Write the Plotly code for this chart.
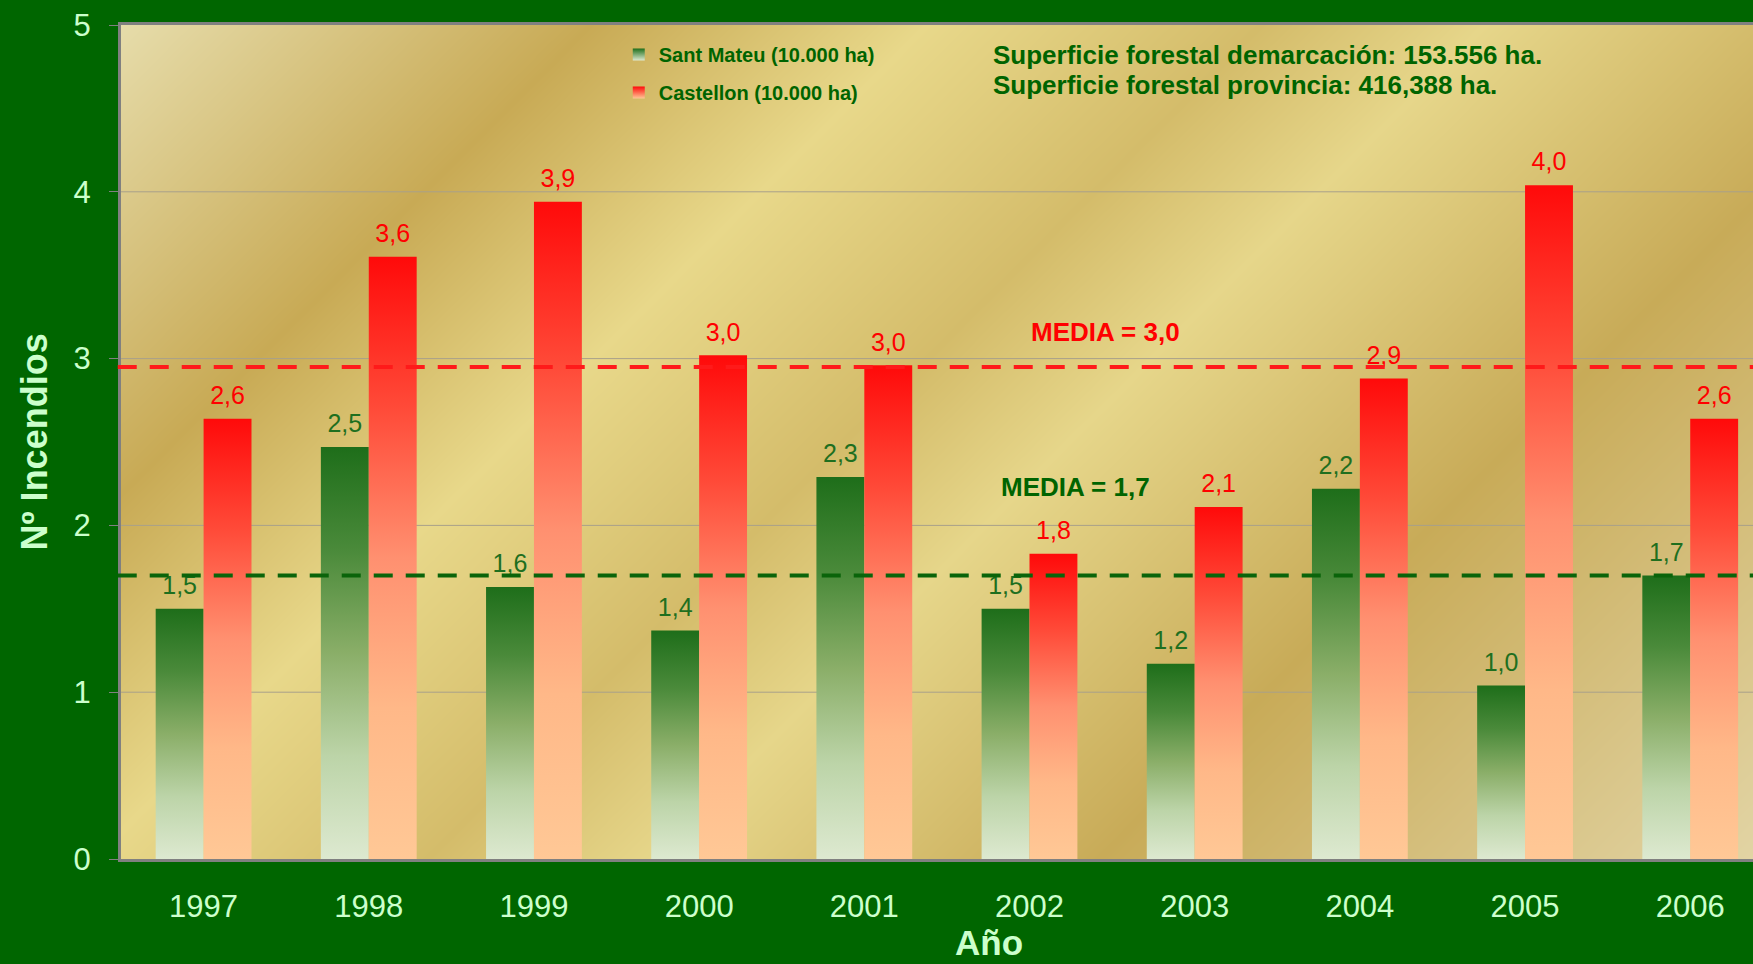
import numpy as np
import plotly.graph_objects as go

# datos
years = ["1997", "1998", "1999", "2000", "2001", "2002", "2003", "2004", "2005", "2006"]
sant_mateu = [1.50, 2.47, 1.63, 1.37, 2.29, 1.50, 1.17, 2.22, 1.04, 1.70]
castellon = [2.64, 3.61, 3.94, 3.02, 2.96, 1.83, 2.11, 2.88, 4.04, 2.64]
media_sant_mateu = 1.70
media_castellon = 2.95
series_names = ["Sant Mateu (10.000 ha)", "Castellon (10.000 ha)"]
info_lines = ["Superficie forestal demarcación: 153.556 ha.",
              "Superficie forestal provincia: 416,388 ha."]

FONT = "Arial, Liberation Sans, sans-serif"
DARK_BG = "#006600"
LIGHT_TXT = "#ccffcc"
GREEN_TXT = "#006400"
GRID = "#a8a08a"

green_scale = [[0, "#dde9d0"], [0.25, "#bcd4a8"], [0.5, "#8aae68"], [0.75, "#4a8a3a"], [1, "#1e6e1a"]]
red_scale = [[0, "#ffc896"], [0.25, "#ffb888"], [0.5, "#ff9070"], [0.75, "#ff4a38"], [1, "#ff0a0a"]]

x_range = [-0.5, 9.38]
y_range = [0, 5]
bar_w = 0.29

fig = go.Figure()

# fondo dorado (degradado diagonal)
gx = np.linspace(x_range[0], x_range[1], 60)
gy = np.linspace(y_range[0], y_range[1], 40)
u = (gx - x_range[0]) / (x_range[1] - x_range[0])
v = 1 - (gy - y_range[0]) / (y_range[1] - y_range[0])
S = (108 + u[None, :] * 1460) + (22 + v[:, None] * 746)
bg_stops = [(130, "#e6dcaa"), (550, "#c8aa55"), (850, "#e8d88a"), (1150, "#d4bc6a"),
            (1350, "#e6d68a"), (1750, "#c8ab58"), (2336, "#e2d4a4")]
s0, s1 = bg_stops[0][0], bg_stops[-1][0]
fig.add_trace(go.Heatmap(
    x=gx, y=gy, z=S, zmin=s0, zmax=s1, zsmooth="best", showscale=False,
    colorscale=[[(s - s0) / (s1 - s0), c] for s, c in bg_stops], hoverinfo="skip"
))

# rejilla
for k in range(1, 5):
    fig.add_trace(go.Scatter(x=x_range, y=[k, k], mode="lines", showlegend=False,
                             line=dict(color=GRID, width=1), hoverinfo="skip"))

# barras con degradado
series = [
    (sant_mateu, series_names[0], green_scale, -bar_w / 2, "#1f6f1f"),
    (castellon, series_names[1], red_scale, bar_w / 2, "#ff0000"),
]
for values, name, scale, off, txtcol in series:
    for i, val in enumerate(values):
        x0, x1 = i + off - bar_w / 2, i + off + bar_w / 2
        fig.add_trace(go.Scatter(
            x=[x0, x0, x1, x1, x0], y=[0, val, val, 0, 0],
            fill="toself", mode="lines", line=dict(width=0),
            fillgradient=dict(type="vertical", colorscale=scale, start=0, stop=val),
            showlegend=False, hoverinfo="skip"
        ))
    fig.add_trace(go.Scatter(
        x=[i + off for i in range(len(values))], y=values, mode="markers+text",
        marker=dict(size=12, opacity=0),
        text=[f"{val:.1f}".replace(".", ",") for val in values],
        textposition="top center", textfont=dict(family=FONT, size=25, color=txtcol),
        showlegend=False, hoverinfo="skip"
    ))

# entradas de leyenda
for (values, name, scale, off, txtcol), grp in zip(series, ["sm", "cs"]):
    fig.add_trace(go.Scatter(
        x=[None], y=[None], mode="markers", name=name, legendgroup=grp,
        marker=dict(symbol="square", size=12, color=scale[-1][1], line=dict(width=0),
                    gradient=dict(type="vertical", color=scale[0][1]))
    ))

# líneas de media
for m, col in [(media_castellon, "#ff1a1a"), (media_sant_mateu, "#0a640a")]:
    fig.add_shape(type="line", xref="paper", yref="y", x0=-0.002, x1=1, y0=m, y1=m,
                  line=dict(color=col, width=4, dash="19px,13px"), layer="above")

fig.add_annotation(x=5.46, y=media_castellon, yshift=35,
                   text=f"<b>MEDIA = {media_castellon:.1f}</b>".replace(".", ","),
                   showarrow=False, font=dict(family=FONT, size=26, color="#ff0000"))
fig.add_annotation(x=5.28, y=media_sant_mateu, yshift=88,
                   text=f"<b>MEDIA = {media_sant_mateu:.1f}</b>".replace(".", ","),
                   showarrow=False, font=dict(family=FONT, size=26, color=GREEN_TXT))

for line, yy in zip(info_lines, [0.9638, 0.9276]):
    fig.add_annotation(xref="paper", yref="paper", x=0.533, y=yy, xanchor="left", yanchor="middle",
                       text=f"<b>{line}</b>", showarrow=False,
                       font=dict(family=FONT, size=26, color=GREEN_TXT))

# títulos de ejes
fig.add_annotation(xref="paper", yref="paper", x=0.532, y=-0.1, yanchor="middle",
                   text="<b>Año</b>", showarrow=False, font=dict(family=FONT, size=35, color=LIGHT_TXT))
fig.add_annotation(xref="paper", yref="paper", x=-0.0536, y=0.5, textangle=-90,
                   xanchor="center", yanchor="middle",
                   text="<b>Nº Incendios</b>", showarrow=False, font=dict(family=FONT, size=36, color=LIGHT_TXT))

fig.update_layout(
    width=1753, height=964,
    margin=dict(l=121, r=0, t=25, b=105),
    paper_bgcolor=DARK_BG, plot_bgcolor="#e0d090",
    font=dict(family=FONT),
    showlegend=True,
    legend=dict(x=0.305, y=0.988, xanchor="left", yanchor="top",
                bgcolor="rgba(0,0,0,0)", tracegroupgap=9,
                font=dict(family=FONT, size=20, color=GREEN_TXT, weight="bold")),
    xaxis=dict(range=x_range, tickvals=list(range(len(years))), ticktext=years,
               showgrid=False, zeroline=False, showline=True, linecolor="#808080", linewidth=3,
               mirror=True, ticks="", ticklabelstandoff=18,
               tickfont=dict(family=FONT, size=31, color=LIGHT_TXT)),
    yaxis=dict(range=y_range, tickvals=[0, 1, 2, 3, 4, 5],
               showgrid=False, zeroline=False, showline=True, linecolor="#808080", linewidth=3,
               ticks="outside", ticklen=9, tickcolor="#808080", ticklabelstandoff=12,
               tickfont=dict(family=FONT, size=31, color=LIGHT_TXT)),
)

fig.write_html("out.html", config={"displayModeBar": False},
               post_script="document.body.style.margin='0';")
